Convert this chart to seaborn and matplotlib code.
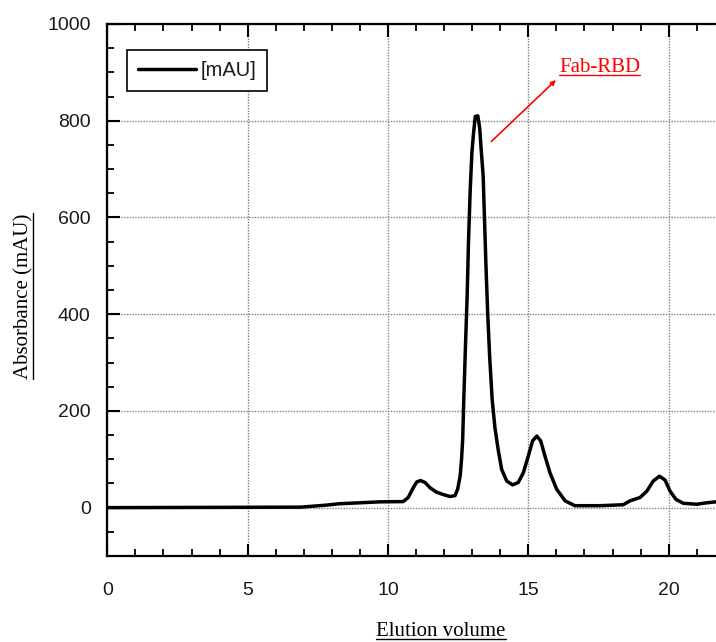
"""
plot.py — SEC elution profile (Fab-RBD)
"""

import matplotlib
matplotlib.use("Agg")
import matplotlib.pyplot as plt
from matplotlib.lines import Line2D
from matplotlib.ticker import MultipleLocator
import seaborn as sns
import pandas as pd

# elution volume (x) and absorbance in mAU (y)
volume = [0.0, 6.88, 7.77, 8.25, 9.72, 10.54, 10.72, 10.90, 11.02, 11.16,
          11.32, 11.50, 11.73, 11.97, 12.21, 12.39, 12.48, 12.57, 12.62,
          12.66, 12.70, 12.76, 12.82, 12.87, 12.93, 12.99, 13.05, 13.11,
          13.20, 13.27, 13.31, 13.39, 13.43, 13.49, 13.55, 13.62, 13.71,
          13.81, 13.93, 14.05, 14.23, 14.44, 14.64, 14.82, 15.00, 15.15,
          15.30, 15.44, 15.59, 15.77, 16.01, 16.31, 16.66, 17.55, 18.38,
          18.62, 18.98, 19.22, 19.45, 19.67, 19.87, 20.05, 20.26, 20.52,
          21.00, 21.35, 21.69]
absorbance = [0, 1, 5, 8, 12, 12.5, 21, 41, 53, 56,
              52, 41, 32, 27, 23, 25, 38, 65, 100,
              141, 224, 335, 438, 555, 659, 735, 776, 809,
              810, 783, 748, 686, 611, 500, 404, 314, 224,
              165, 118, 79, 55, 47, 52, 72, 107, 138,
              148, 138, 107, 72, 38, 14, 4, 4, 6,
              14, 21, 34, 55, 65, 57, 34, 17, 9,
              7, 10, 12]
series_label = "[mAU]"
peak_label = "Fab-RBD"

df = pd.DataFrame({"volume": volume, "absorbance": absorbance})

sns.set_theme(style="ticks")
plt.rcParams["font.family"] = ["Liberation Sans", "DejaVu Sans"]

W, H = 716, 642
fig = plt.figure(figsize=(W / 100, H / 100), dpi=100)
ax = fig.add_axes([107.3 / W, (H - 556) / H, (W - 107.3) / W, 532 / H])

sns.lineplot(data=df, x="volume", y="absorbance", color="black",
             linewidth=2.5, label=series_label, sort=False, ax=ax)

ax.set_xlim(0, (W - 107.3) / 28.07)
ax.set_ylim(-100, 1000)
ax.xaxis.set_major_locator(MultipleLocator(5))
ax.xaxis.set_minor_locator(MultipleLocator(1))
ax.yaxis.set_major_locator(MultipleLocator(200))
ax.yaxis.set_minor_locator(MultipleLocator(50))

ax.grid(True, which="major", color="#808080", linestyle=(0, (1, 1)), linewidth=1.0)
ax.tick_params(axis="both", which="both", direction="in", top=True, right=False,
               colors="black", labelcolor="#1a1a1a", labelsize=14)
ax.tick_params(axis="x", which="major", length=9, width=1.5, pad=19)
ax.tick_params(axis="y", which="major", length=9, width=1.5, pad=12)
ax.tick_params(axis="both", which="minor", length=5, width=1.3)
ax.tick_params(axis="x", which="both", top=True)

for side in ["left", "bottom", "top"]:
    ax.spines[side].set_linewidth(1.6)
    ax.spines[side].set_color("black")
ax.spines["right"].set_visible(False)

ax.set_xlabel("")
ax.set_ylabel("")

leg = ax.legend(loc="upper left", bbox_to_anchor=(0.032, 0.951), borderaxespad=0,
                frameon=True, fancybox=False, fontsize=14.5, handlelength=2.9,
                handletextpad=0.2, borderpad=0.55)
leg.get_frame().set_edgecolor("black")
leg.get_frame().set_linewidth(1.2)
leg.get_frame().set_alpha(1)
for t in leg.get_texts():
    t.set_color("#1a1a1a")

# red arrow pointing to the peak label
ax.annotate("", xy=(15.98, 884), xytext=(13.68, 757),
            arrowprops=dict(arrowstyle="-|>", color="red", lw=1.2,
                            mutation_scale=7, shrinkA=0, shrinkB=0))

serif = ["Liberation Serif", "DejaVu Serif"]
peak_txt = ax.text(16.09, 900, peak_label, color="red", fontsize=15,
                   family=serif, ha="left", va="baseline")
xlab = fig.text(441 / W, 1 - 631 / H, "Elution volume", fontsize=15,
                family=serif, ha="center", va="center", color="black")
ylab = fig.text(24 / W, 1 - 296 / H, "Absorbance (mAU)", fontsize=15,
                family=serif, ha="center", va="center", rotation=90, color="black")

# underline the serif labels
fig.canvas.draw()
renderer = fig.canvas.get_renderer()


def underline(txt, color, vertical=False):
    bb = txt.get_window_extent(renderer)
    if vertical:
        x = bb.x1 - 1
        pts = ([x, x], [bb.y0, bb.y1])
    else:
        y = bb.y0 + 2
        pts = ([bb.x0, bb.x1], [y, y])
    fig.add_artist(Line2D(pts[0], pts[1], transform=None, color=color, linewidth=1.0))


underline(peak_txt, "red")
underline(xlab, "black")
underline(ylab, "black", vertical=True)

fig.savefig("out.png", dpi=100)
